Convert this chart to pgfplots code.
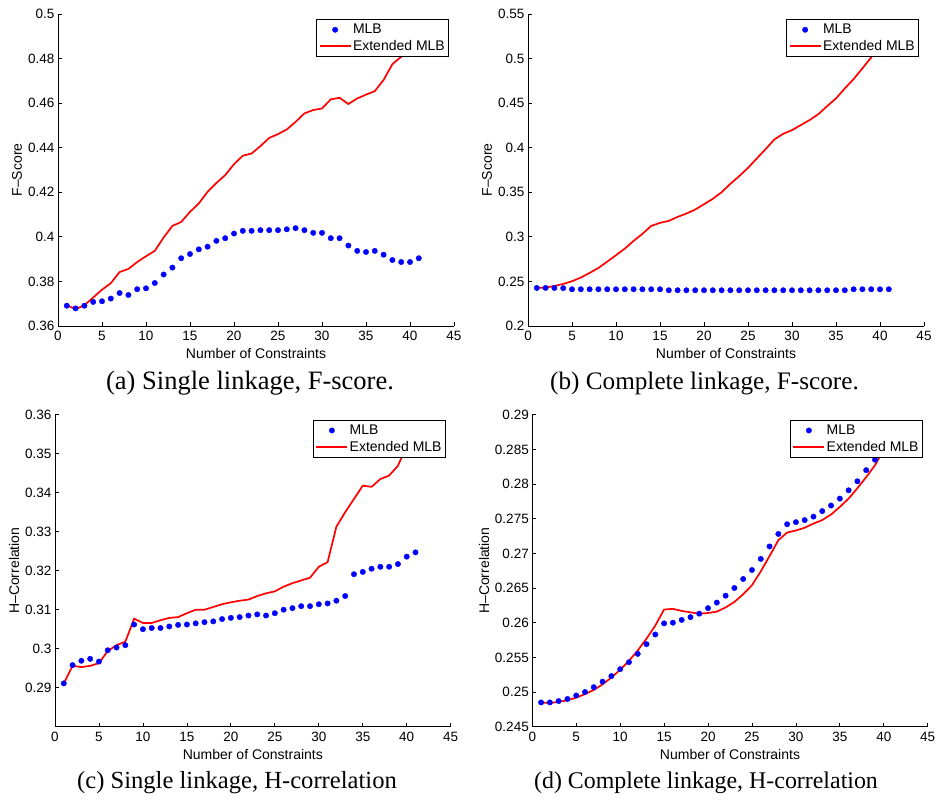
\documentclass[border=0pt]{standalone}
\usepackage{pgfplots}
\pgfplotsset{compat=1.18}
\usepackage{fontspec}
\setmainfont{Liberation Sans}
\newfontfamily\capfont{Liberation Serif}

\pgfplotsset{
  mystyle/.style={
    scale only axis, width=396pt, height=312pt,
    xmin=0, xmax=45, enlargelimits=false,
    axis x line*=bottom, axis y line*=left,
    tick align=inside, major tick length=4pt,
    xtick={0,5,10,15,20,25,30,35,40,45},
    xticklabels={0,5,10,15,20,25,30,35,40,45},
    tick label style={font=\fontsize{13.5}{15}\selectfont},
    xticklabel style={yshift=-2pt},
    label style={font=\fontsize{14}{16}\selectfont},
    xlabel={Number of Constraints},
    xlabel style={at={(axis description cs:0.5,-0.088)}, anchor=center},
    ylabel style={at={(axis description cs:-0.1035,0.5)}, anchor=center},
    axis line style={black, line width=0.8pt},
    tick style={black, line width=0.8pt},
    legend style={at={(0.988,0.983)}, anchor=north east, draw=black, fill=white,
      line width=0.8pt,
      font=\fontsize{14}{16}\selectfont, inner xsep=2.5pt, inner ysep=3pt,
      row sep=2pt, nodes={inner sep=1.5pt}},
    legend cell align=left,
    legend image code/.code={\draw[mark repeat=2,mark phase=2,##1] plot coordinates {(0pt,0pt) (15.5pt,0pt) (31pt,0pt)};},
  },
  mlb/.style={only marks, mark=*, mark size=2.7pt, color=blue, mark options={fill=blue, draw=blue, line width=0.4pt}},
  ext/.style={color=red, line width=1.7pt, no marks},
}

\begin{document}
\begin{tikzpicture}
\path (0pt,0pt) rectangle (940pt,803pt);

% (a)
\begin{axis}[mystyle, at={(58pt,477pt)}, anchor=south west,
  ymin=0.36, ymax=0.5,
  ytick={0.36,0.38,0.40,0.42,0.44,0.46,0.48,0.50},
  yticklabels={0.36,0.38,0.4,0.42,0.44,0.46,0.48,0.5},
  ylabel={F–Score}]
\addplot[mlb] coordinates {
(1,0.3691)(2,0.3679)(3,0.3691)(4,0.3708)(5,0.3711)(6,0.3723)(7,0.3748)(8,0.3739)(9,0.3765)(10,0.3769)
(11,0.3793)(12,0.3831)(13,0.3862)(14,0.3904)(15,0.3923)(16,0.3944)(17,0.3956)(18,0.3982)(19,0.3994)(20,0.4015)
(21,0.4027)(22,0.4027)(23,0.4030)(24,0.4030)(25,0.4030)(26,0.4034)(27,0.4039)(28,0.4030)(29,0.4018)(30,0.4018)
(31,0.3994)(32,0.3994)(33,0.3961)(34,0.3937)(35,0.3932)(36,0.3937)(37,0.3920)(38,0.3896)(39,0.3887)(40,0.3887)(41,0.3904)};
\addlegendentry{MLB}
\addplot[ext] coordinates {
(1,0.3693)(2,0.3676)(3,0.3693)(4,0.3728)(5,0.3763)(6,0.3792)(7,0.3842)(8,0.3856)(9,0.3887)(10,0.3913)
(11,0.3937)(12,0.3997)(13,0.4049)(14,0.4067)(15,0.4112)(16,0.4150)(17,0.4202)(18,0.4242)(19,0.4277)(20,0.4326)
(21,0.4364)(22,0.4374)(23,0.4407)(24,0.4444)(25,0.4461)(26,0.4482)(27,0.4516)(28,0.4554)(29,0.4569)(30,0.4576)
(31,0.4617)(32,0.4624)(33,0.4596)(34,0.4621)(35,0.4638)(36,0.4654)(37,0.4704)(38,0.4775)(39,0.4808)(40,0.4860)(41,0.4890)};
\addlegendentry{Extended MLB}
\end{axis}

% (b)
\begin{axis}[mystyle, at={(528pt,477pt)}, anchor=south west,
  ymin=0.2, ymax=0.55,
  ytick={0.20,0.25,0.30,0.35,0.40,0.45,0.50,0.55},
  yticklabels={0.2,0.25,0.3,0.35,0.4,0.45,0.5,0.55},
  ylabel={F–Score}]
\addplot[mlb] coordinates {
(1,0.2427)(2,0.2427)(3,0.2427)(4,0.2425)(5,0.2412)(6,0.2412)(7,0.2412)(8,0.2412)(9,0.2412)(10,0.2412)
(11,0.2412)(12,0.2412)(13,0.2412)(14,0.2412)(15,0.2412)(16,0.2401)(17,0.2401)(18,0.2401)(19,0.2401)(20,0.2401)
(21,0.2401)(22,0.2401)(23,0.2401)(24,0.2401)(25,0.2401)(26,0.2401)(27,0.2401)(28,0.2401)(29,0.2401)(30,0.2401)
(31,0.2401)(32,0.2401)(33,0.2401)(34,0.2401)(35,0.2401)(36,0.2401)(37,0.2412)(38,0.2412)(39,0.2412)(40,0.2412)(41,0.2412)};
\addlegendentry{MLB}
\addplot[ext] coordinates {
(1,0.2427)(2,0.2430)(3,0.2449)(4,0.2472)(5,0.2502)(6,0.2543)(7,0.2595)(8,0.2651)(9,0.2722)(10,0.2794)
(11,0.2868)(12,0.2955)(13,0.3033)(14,0.3123)(15,0.3157)(16,0.3179)(17,0.3224)(18,0.3261)(19,0.3306)(20,0.3366)
(21,0.3426)(22,0.3501)(23,0.3595)(24,0.3681)(25,0.3774)(26,0.3879)(27,0.3984)(28,0.4093)(29,0.4156)(30,0.4197)
(31,0.4254)(32,0.4310)(33,0.4377)(34,0.4467)(35,0.4553)(36,0.4665)(37,0.4770)(38,0.4890)(39,0.5013)(40,0.5140)(41,0.5270)};
\addlegendentry{Extended MLB}
\end{axis}

% (c)
\begin{axis}[mystyle, at={(55pt,76.3pt)}, anchor=south west, width=395.7pt, height=312pt,
  ymin=0.28, ymax=0.36,
  ytick={0.29,0.30,0.31,0.32,0.33,0.34,0.35,0.36},
  yticklabels={0.29,0.3,0.31,0.32,0.33,0.34,0.35,0.36},
  ylabel={H–Correlation}]
\addplot[mlb] coordinates {
(1,0.2911)(2,0.2958)(3,0.2969)(4,0.2974)(5,0.2967)(6,0.2996)(7,0.3003)(8,0.3009)(9,0.3062)(10,0.3050)
(11,0.3053)(12,0.3053)(13,0.3057)(14,0.3061)(15,0.3062)(16,0.3065)(17,0.3068)(18,0.3070)(19,0.3076)(20,0.3079)
(21,0.3081)(22,0.3085)(23,0.3088)(24,0.3085)(25,0.3091)(26,0.3100)(27,0.3104)(28,0.3109)(29,0.3109)(30,0.3114)
(31,0.3116)(32,0.3123)(33,0.3135)(34,0.3191)(35,0.3197)(36,0.3205)(37,0.3210)(38,0.3210)(39,0.3217)(40,0.3236)(41,0.3247)};
\addlegendentry{MLB}
\addplot[ext] coordinates {
(1,0.2911)(2,0.2956)(3,0.2953)(4,0.2956)(5,0.2963)(6,0.2994)(7,0.3009)(8,0.3018)(9,0.3077)(10,0.3066)
(11,0.3066)(12,0.3073)(13,0.3079)(14,0.3081)(15,0.3091)(16,0.3100)(17,0.3100)(18,0.3107)(19,0.3114)(20,0.3119)
(21,0.3123)(22,0.3126)(23,0.3135)(24,0.3142)(25,0.3147)(26,0.3159)(27,0.3168)(28,0.3175)(29,0.3182)(30,0.3210)
(31,0.3222)(32,0.3313)(33,0.3350)(34,0.3384)(35,0.3418)(36,0.3415)(37,0.3435)(38,0.3444)(39,0.3469)(40,0.3520)(41,0.3560)};
\addlegendentry{Extended MLB}
\end{axis}

% (d)
\begin{axis}[mystyle, at={(532.3pt,76.3pt)}, anchor=south west, width=395.4pt, height=312pt,
  ymin=0.245, ymax=0.29,
  ytick={0.245,0.250,0.255,0.260,0.265,0.270,0.275,0.280,0.285,0.290},
  yticklabels={0.245,0.25,0.255,0.26,0.265,0.27,0.275,0.28,0.285,0.29},
  ylabel={H–Correlation},
  ylabel style={at={(axis description cs:-0.122,0.5)}, anchor=center}]
\addplot[mlb] coordinates {
(1,0.2485)(2,0.2485)(3,0.2487)(4,0.2490)(5,0.2495)(6,0.2500)(7,0.2507)(8,0.2515)(9,0.2523)(10,0.2533)
(11,0.2543)(12,0.2555)(13,0.2569)(14,0.2583)(15,0.2599)(16,0.2600)(17,0.2604)(18,0.2608)(19,0.2613)(20,0.2621)
(21,0.2629)(22,0.2639)(23,0.2650)(24,0.2663)(25,0.2676)(26,0.2692)(27,0.2710)(28,0.2728)(29,0.2742)(30,0.2745)
(31,0.2748)(32,0.2753)(33,0.2761)(34,0.2769)(35,0.2779)(36,0.2791)(37,0.2804)(38,0.2820)(39,0.2835)(40,0.2852)(41,0.2870)};
\addlegendentry{MLB}
\addplot[ext] coordinates {
(1,0.2485)(2,0.2484)(3,0.2486)(4,0.2488)(5,0.2492)(6,0.2497)(7,0.2503)(8,0.2511)(9,0.2521)(10,0.2532)
(11,0.2545)(12,0.2560)(13,0.2577)(14,0.2596)(15,0.2619)(16,0.2620)(17,0.2617)(18,0.2615)(19,0.2613)(20,0.2614)
(21,0.2616)(22,0.2622)(23,0.2630)(24,0.2641)(25,0.2654)(26,0.2674)(27,0.2696)(28,0.2719)(29,0.2730)(30,0.2733)
(31,0.2737)(32,0.2743)(33,0.2748)(34,0.2756)(35,0.2767)(36,0.2779)(37,0.2794)(38,0.2810)(39,0.2827)(40,0.2850)(41,0.2875)};
\addlegendentry{Extended MLB}
\end{axis}

% captions
\node[anchor=base, font=\capfont\fontsize{26.5}{30}\selectfont] at (250pt,413pt) {(a) Single linkage, F-score.};
\node[anchor=base, font=\capfont\fontsize{25.2}{29}\selectfont] at (704.5pt,413pt) {(b) Complete linkage, F-score.};
\node[anchor=base, font=\capfont\fontsize{24.6}{28}\selectfont] at (237pt,14pt) {(c) Single linkage, H-correlation};
\node[anchor=base, font=\capfont\fontsize{23.9}{28}\selectfont] at (706pt,14pt) {(d) Complete linkage, H-correlation};
\end{tikzpicture}
\end{document}
